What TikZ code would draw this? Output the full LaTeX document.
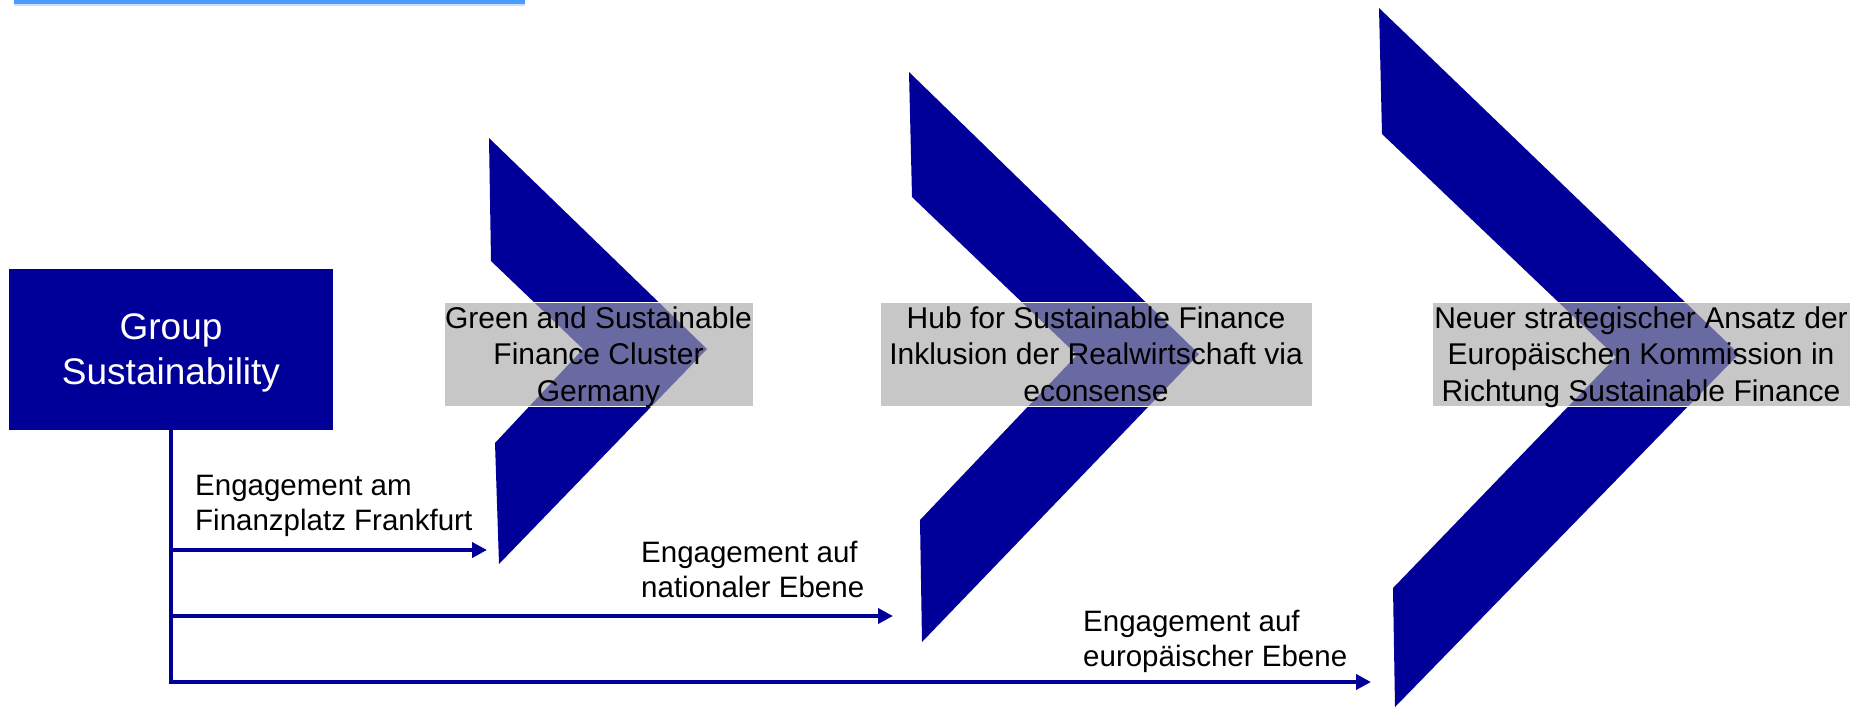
\documentclass[tikz,border=0pt]{standalone}
\usepackage{fontspec}
\setmainfont{Liberation Sans}
\usetikzlibrary{arrows.meta}
\definecolor{dblue}{RGB}{0,0,153}
\definecolor{barblue}{RGB}{74,157,255}
\definecolor{barlight}{RGB}{200,225,255}
\definecolor{overlaygray}{RGB}{168,168,168}
\begin{document}
\begin{tikzpicture}[x=1pt,y=-1pt,
  chevronshape/.style={fill=dblue, draw=none},
  graybox/.style={fill=overlaygray, fill opacity=0.635, text opacity=1, draw=white, line width=0.8pt,
    inner sep=0pt, minimum height=104pt, align=center, text=black, text depth=-3pt,
    font=\fontsize{30}{36.5}\selectfont},
  headbox/.style={fill=dblue, draw=none, text=white, align=center, inner sep=0pt, text depth=-11pt,
    minimum width=324pt, minimum height=161pt, font=\fontsize{37}{45}\selectfont},
  lbl/.style={anchor=west, align=left, inner sep=0pt, text=black, font=\fontsize{29.5}{35}\selectfont},
  conn/.style={draw=dblue, line width=4pt},
  arr/.style={conn, -{Triangle[length=15pt,width=15pt]}}]

\useasboundingbox (0,0) rectangle (1850,707);
\fill[white] (0,0) rectangle (1850,707);

% top bar
\fill[barblue] (14,0) rectangle (525,4);
\fill[barlight] (14,4) rectangle (525,5.5);

% chevrons
\fill[chevronshape] (489,138) -- (707,349) -- (499,564) -- (495,443) -- (583,349) -- (491,261) -- cycle;
\fill[chevronshape] (909,72) -- (1199,354) -- (922,642) -- (920,520) -- (1077,355) -- (912,197) -- cycle;
\fill[chevronshape] (1379,8) -- (1739,354) -- (1395,707) -- (1393,588) -- (1616,357) -- (1382,134) -- cycle;

% text boxes
\node[graybox, minimum width=309pt] (g1) at (598.5,354) {Green and Sustainable\\Finance Cluster\\Germany};
\node[graybox, minimum width=432pt] (g2) at (1096,354) {Hub for Sustainable Finance\\Inklusion der Realwirtschaft via\\econsense};
\node[graybox, minimum width=418pt] (g3) at (1641,354) {Neuer strategischer Ansatz der\\Europäischen Kommission in\\Richtung Sustainable Finance};

% source box
\node[headbox] (gs) at (171,349.5) {Group\\Sustainability};

% arrow ends
\coordinate (e1) at (487,550);
\coordinate (e2) at (893,616);
\coordinate (e3) at (1371,682);

% connectors
\draw[arr] (gs.south) |- (e3);
\draw[arr] (gs.south |- e1) -- (e1);
\draw[arr] (gs.south |- e2) -- (e2);

% labels
\node[lbl] (l1) at (195,506) {Engagement am\\Finanzplatz Frankfurt};
\node[lbl] (l2) at (641,569) {Engagement auf\\nationaler Ebene};
\node[lbl] (l3) at (1083,641) {Engagement auf\\europäischer Ebene};
\end{tikzpicture}
\end{document}
